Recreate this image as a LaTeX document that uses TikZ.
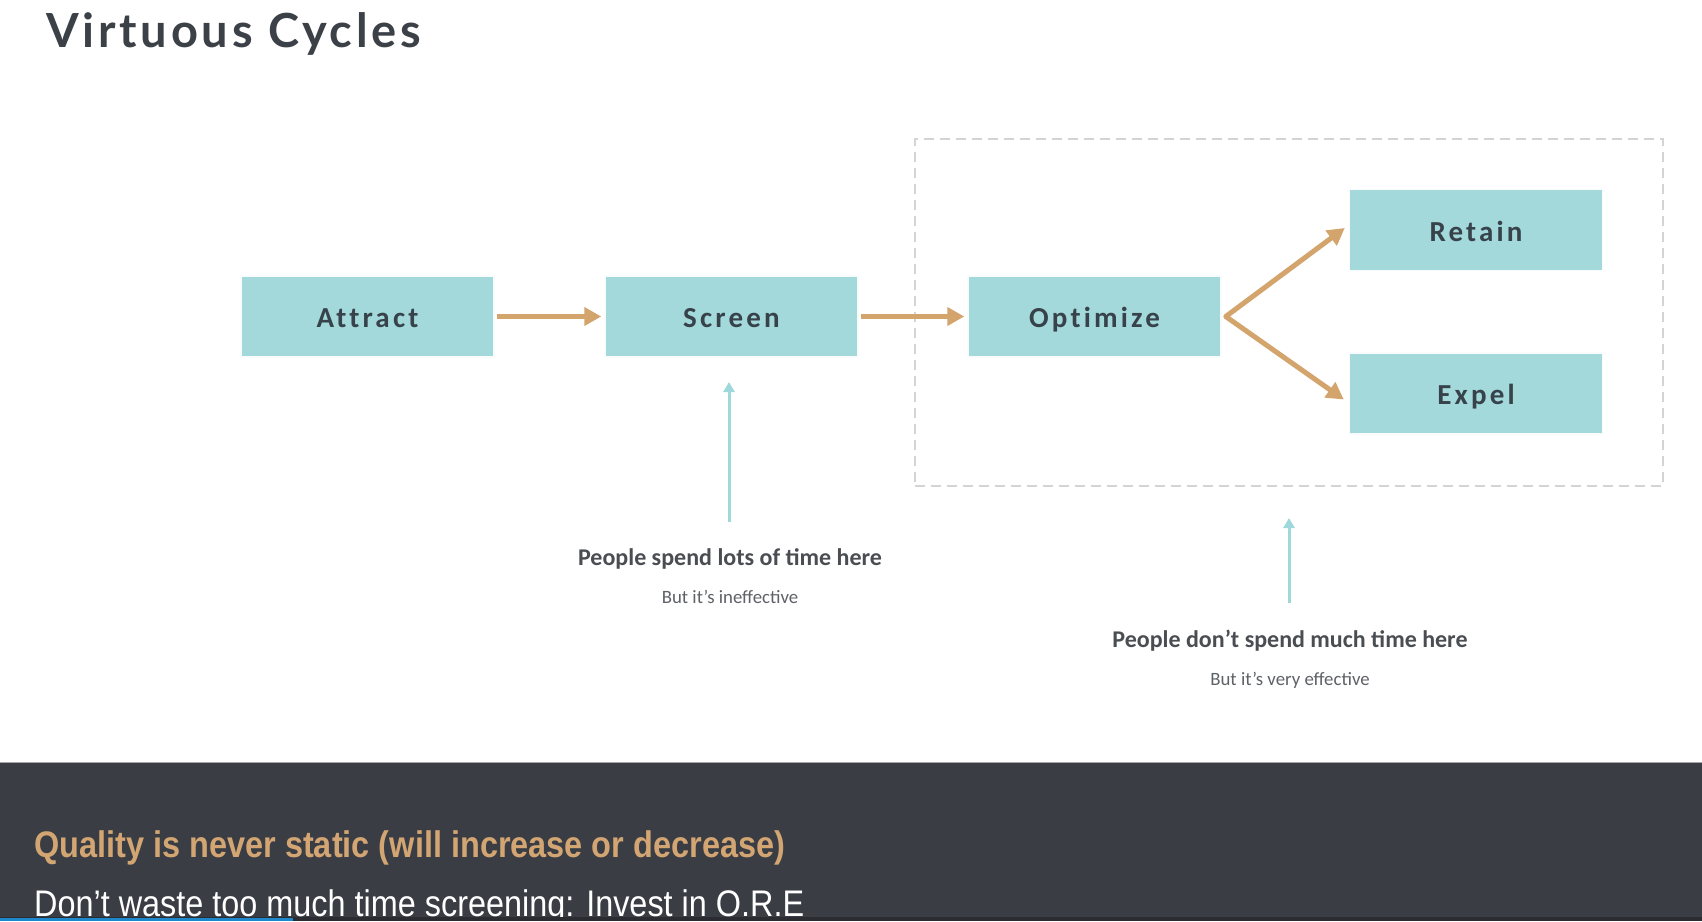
\documentclass[tikz,border=0pt]{standalone}
\usepackage{fontspec}
\usetikzlibrary{arrows.meta}
\setmainfont{Carlito}
\newfontfamily\titlefont{Lato}[LetterSpace=8.0, Ligatures=NoCommon]
\newfontfamily\boxfont{Carlito}[LetterSpace=11.0, Ligatures=NoCommon]
\newfontfamily\bandfont{Liberation Sans}
\definecolor{boxfill}{HTML}{A3D9DB}
\definecolor{tanline}{HTML}{D3A46C}
\definecolor{tealline}{HTML}{9FD8DA}
\definecolor{inkdark}{HTML}{37424B}
\definecolor{titleink}{HTML}{3C4047}
\definecolor{labelink}{HTML}{4A4D52}
\definecolor{subink}{HTML}{5E6166}
\definecolor{dashgray}{HTML}{D4D4D4}
\definecolor{bandbg}{HTML}{3A3D44}
\definecolor{bandtan}{HTML}{D2A573}
\definecolor{barblue}{HTML}{1E88CC}
\definecolor{bardark}{HTML}{2A2C31}
\tikzset{
  stagebox/.style={fill=boxfill, draw=white!92!boxfill, line width=1.5pt,
    minimum width=253pt, minimum height=81pt, inner sep=0pt,
    text height=22pt, text depth=0pt,
    font=\boxfont\bfseries\fontsize{29}{32}\selectfont, text=inkdark},
  tanarrow/.style={draw=tanline, line width=5pt,
    -{Triangle[length=17pt,width=18pt]}},
  tealarrow/.style={draw=tealline, line width=3pt,
    -{Triangle[length=10pt,width=11pt]}},
  zonebox/.style={draw=dashgray, line width=1.5pt, dash pattern=on 10pt off 6pt,
    minimum width=748pt, minimum height=347pt, inner sep=0pt},
  mainlabel/.style={anchor=base, font=\bfseries\fontsize{24}{28}\selectfont, text=labelink},
  sublabel/.style={anchor=base, font=\fontsize{18.8}{22}\selectfont, text=subink},
}
\begin{document}
\begin{tikzpicture}[x=1pt,y=-1pt]
\useasboundingbox (0,0) rectangle (1702,921);
\clip (0,0) rectangle (1702,921);
\fill[white] (0,0) rectangle (1702,921);
% title
\node[anchor=base west, inner sep=0pt, text=titleink,
  font=\titlefont\bfseries\fontsize{47}{50}\selectfont] (title) at (46,47) {Virtuous Cycles};
% dashed zone
\node[zonebox] (zone) at (1289,312.5) {};
% stage boxes
\node[stagebox] (attract) at (367.5,316.5) {Attract};
\node[stagebox] (screen) at (731.5,316.5) {Screen};
\node[stagebox] (optimize) at (1094.5,316.5) {Optimize};
\node[stagebox] (retain) at (1476,230) {Retain};
\node[stagebox] (expel) at (1476,393.5) {Expel};
% tan connectors
\draw[tanarrow, shorten <=2pt, shorten >=3pt] (attract.east) -- (screen.west);
\draw[tanarrow, shorten <=2pt, shorten >=3pt] (screen.east) -- (optimize.west);
\coordinate (fork) at ([xshift=4pt]optimize.east);
\draw[draw=tanline, line width=5pt, line join=round,
  arrows={Triangle[length=17pt,width=18pt]-Triangle[length=17pt,width=18pt]}]
  ([shift={(-4pt,2pt)}]retain.west) -- (fork) -- ([shift={(-5pt,-6pt)}]expel.west);
% labels
\node[mainlabel] (lab1) at (730,565) {People spend lots of time here};
\node[sublabel] (sub1) at (730,603) {But it’s ineffective};
\node[mainlabel] (lab2) at (1290,647) {People don’t spend much time here};
\node[sublabel] (sub2) at (1290,685) {But it’s very effective};
% teal pointers
\coordinate (p1) at (729,522);
\coordinate (q1) at (729,382);
\draw[tealarrow] (p1) -- (q1);
\coordinate (p2) at (1289,603);
\coordinate (q2) at (1289,518);
\draw[tealarrow] (p2) -- (q2);
% bottom band
\fill[bandbg] (0,762) rectangle (1702,921);
\draw[draw=gray!70, line width=1pt] (0,762.5) -- (1702,762.5);
\node[anchor=base west, inner sep=0pt, text=bandtan] (quality) at (34,857)
  {\resizebox{751pt}{\height}{\bandfont\bfseries\fontsize{37}{40}\selectfont Quality is never static (will increase or decrease)}};
\node[anchor=base west, inner sep=0pt, text=white] (waste) at (34,916)
  {\resizebox{770pt}{\height}{\bandfont\fontsize{37}{40}\selectfont Don’t waste too much time screening: Invest in O.R.E}};
\fill[bardark] (0,917) rectangle (1702,921);
\fill[barblue] (0,917.5) rectangle (293,921);
\end{tikzpicture}
\end{document}
